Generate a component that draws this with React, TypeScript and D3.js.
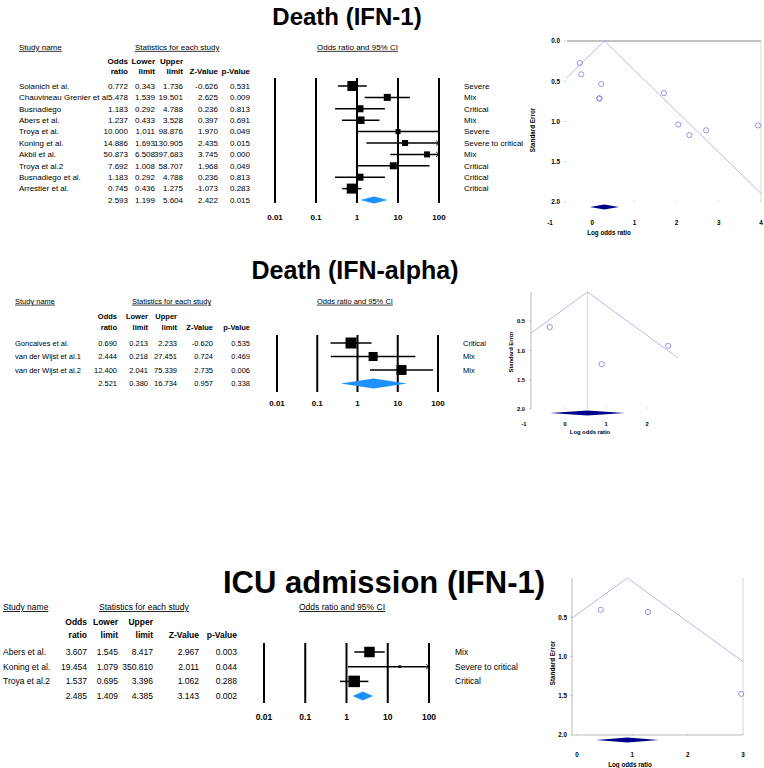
import * as d3 from 'd3';

const FONT = "Arial, 'Liberation Sans', Helvetica, sans-serif";

// ---- Death (IFN-1) ----
const death1Studies = ["Solanich et al.", "Chauvineau Grenier et al.", "Busnadiego", "Abers et al.", "Troya et al.", "Koning et al.", "Akbil et al.", "Troya et al.2", "Busnadiego et al.", "Arrestier et al."];
const death1OddsRatio = [0.772, 5.478, 1.183, 1.237, 10.0, 14.886, 50.873, 7.692, 1.183, 0.745];
const death1Lower = [0.343, 1.539, 0.292, 0.433, 1.011, 1.693, 6.508, 1.008, 0.292, 0.436];
const death1Upper = [1.736, 19.501, 4.788, 3.528, 98.876, 130.905, 397.683, 58.707, 4.788, 1.275];
const death1Z = [-0.626, 2.625, 0.236, 0.397, 1.97, 2.435, 3.745, 1.968, 0.236, -1.073];
const death1P = [0.531, 0.009, 0.813, 0.691, 0.049, 0.015, 0.0, 0.049, 0.813, 0.283];
const death1Severity = ["Severe", "Mix", "Critical", "Mix", "Severe", "Severe to critical", "Mix", "Critical", "Critical", "Critical"];
const death1Weight = [18.2, 8.9, 8.9, 10.2, 4.6, 6.6, 6.6, 8.9, 8.9, 18.2];
const death1Summary = [2.593, 1.199, 5.604, 2.422, 0.015];

// ---- Death (IFN-alpha) ----
const alphaStudies = ["Goncalves et al.", "van der Wijst et al.1", "van der Wijst et al.2"];
const alphaOddsRatio = [0.69, 2.444, 12.4];
const alphaLower = [0.213, 0.218, 2.041];
const alphaUpper = [2.233, 27.451, 75.339];
const alphaZ = [-0.62, 0.724, 2.735];
const alphaP = [0.535, 0.469, 0.006];
const alphaSeverity = ["Critical", "Mix", "Mix"];
const alphaWeight = [40, 27, 33];
const alphaSummary = [2.521, 0.38, 16.734, 0.957, 0.338];

// ---- ICU admission (IFN-1) ----
const icuStudies = ["Abers et al.", "Koning et al.", "Troya et al.2"];
const icuOddsRatio = [3.607, 19.454, 1.537];
const icuLower = [1.545, 1.079, 0.695];
const icuUpper = [8.417, 350.81, 3.396];
const icuZ = [2.967, 2.011, 1.062];
const icuP = [0.003, 0.044, 0.288];
const icuSeverity = ["Mix", "Severe to critical", "Critical"];
const icuWeight = [44, 3, 53];
const icuSummary = [2.485, 1.409, 4.385, 3.143, 0.002];

// axis / header labels
const forestTicks = [0.01, 0.1, 1, 10, 100];
const forestTickLabels = ["0.01", "0.1", "1", "10", "100"];
const headerTop = ["Odds", "Lower", "Upper", "", ""];
const headerBottom = ["ratio", "limit", "limit", "Z-Value", "p-Value"];
const funnel1XTicks = [-1, 0, 1, 2, 3, 4];
const funnel2XTicks = [-1, 0, 1, 2];
const funnel3XTicks = [0, 1, 2, 3];
const funnel1SeTicks = [0, 0.5, 1, 1.5, 2];
const funnel23SeTicks = [0.5, 1, 1.5, 2];

interface ForestLayout {
  title: string; titleX: number; titleY: number; titleSize: number;
  fs: number; nameX: number; headY: number; statsX: number; orHeadX: number;
  colY1: number; colY2: number; cols: number[];
  rowY0: number; rowStep: number;
  plotX0: number; plotX1: number; lineTop: number; lineBottom: number;
  tickY: number; tickFs: number; sevX: number; maxSide: number; diamondH: number;
}

function Forest({ L, studies, or, lo, hi, z, p, severity, weight, summary }: any) {
  const x = d3.scaleLog().domain([0.01, 100]).range([L.plotX0, L.plotX1]).clamp(true);
  const rowY = (i: number) => L.rowY0 + i * L.rowStep;
  const side = d3.scaleSqrt().domain([0, d3.max(weight as number[])!]).range([0, L.maxSide]);
  const bl = L.fs * 0.36;
  const n = studies.length;
  const sy = rowY(n);
  return (
    <g fontFamily={FONT}>
      <text x={L.titleX} y={L.titleY} textAnchor="middle" fontWeight="bold" fontSize={L.titleSize}>{L.title}</text>
      <text x={L.nameX} y={L.headY + bl} fontSize={L.fs} style={{ textDecoration: 'underline' }}>Study name</text>
      <text x={L.statsX} y={L.headY + bl} fontSize={L.fs} style={{ textDecoration: 'underline' }}>Statistics for each study</text>
      <text x={L.orHeadX} y={L.headY + bl} fontSize={L.fs} style={{ textDecoration: 'underline' }}>Odds ratio and 95% CI</text>
      {L.cols.map((cx: number, j: number) => (
        <g key={j} fontWeight="bold" fontSize={L.fs} textAnchor="end">
          <text x={cx} y={L.colY1 + bl}>{headerTop[j]}</text>
          <text x={cx} y={L.colY2 + bl}>{headerBottom[j]}</text>
        </g>
      ))}
      {studies.map((s: string, i: number) => {
        const vals = [or[i], lo[i], hi[i], z[i], p[i]];
        return (
          <g key={s + i} fontSize={L.fs}>
            <text x={L.nameX} y={rowY(i) + bl}>{s}</text>
            {vals.map((v: number, j: number) => (
              <text key={j} x={L.cols[j]} y={rowY(i) + bl} textAnchor="end">{v.toFixed(3)}</text>
            ))}
            <text x={L.sevX} y={rowY(i) + bl}>{severity[i]}</text>
          </g>
        );
      })}
      <g fontSize={L.fs}>
        {summary.map((v: number, j: number) => (
          <text key={j} x={L.cols[j]} y={sy + bl} textAnchor="end">{v.toFixed(3)}</text>
        ))}
      </g>
      {forestTicks.map((t, k) => (
        <g key={t}>
          <line x1={x(t)} x2={x(t)} y1={L.lineTop} y2={L.lineBottom} stroke="#000" strokeWidth={2} />
          <text x={x(t)} y={L.tickY + L.tickFs * 0.36} textAnchor="middle" fontWeight="bold" fontSize={L.tickFs}>{forestTickLabels[k]}</text>
        </g>
      ))}
      {studies.map((s: string, i: number) => {
        const y = rowY(i);
        const a = side(weight[i]);
        const xr = x(hi[i]);
        return (
          <g key={'m' + i}>
            <line x1={x(lo[i])} x2={xr} y1={y} y2={y} stroke="#000" strokeWidth={1.5} />
            {hi[i] > 100 && (
              <path d={`M${xr - 3},${y - 2.5}L${xr},${y}L${xr - 3},${y + 2.5}`} fill="none" stroke="#000" strokeWidth={0.8} />
            )}
            <rect x={x(or[i]) - a / 2} y={y - a / 2} width={a} height={a} fill="#000" />
          </g>
        );
      })}
      <path
        d={`M${x(summary[1])},${sy}L${x(summary[0])},${sy - L.diamondH / 2}L${x(summary[2])},${sy}L${x(summary[0])},${sy + L.diamondH / 2}Z`}
        fill="#1E90FF"
      />
    </g>
  );
}

interface FunnelLayout {
  xDomain: [number, number]; xRange: [number, number];
  yTop: number; yBottom: number; left: number; right: number;
  xTicks: number[]; seTicks: number[];
  tickLabelX: number; tickX: number; xTickY: number; xLabelX: number; xLabelY: number;
  yLabelX: number; yLabelY: number; diamondY: number; fs: number;
  topLine: boolean; leftAxis: boolean; rightAxis: boolean; bottomAxis: boolean; centerLine: boolean;
}

function Funnel({ L, or, lo, hi }: { L: FunnelLayout; or: number[]; lo: number[]; hi: number[] }) {
  const x = d3.scaleLinear().domain(L.xDomain).range(L.xRange);
  const y = d3.scaleLinear().domain([0, 2]).range([L.yTop, L.yBottom]);
  const logOr = or.map(Math.log);
  const se = lo.map((l, i) => (Math.log(hi[i]) - Math.log(l)) / (2 * 1.96));
  const w = se.map((s) => 1 / (s * s));
  const sw = d3.sum(w);
  const c = d3.sum(logOr.map((v, i) => v * w[i])) / sw;
  const seC = Math.sqrt(1 / sw);
  const seL = Math.min(2, (c - x.invert(L.left)) / 1.96);
  const seR = Math.min(2, (x.invert(L.right) - c) / 1.96);
  const line = d3.line<[number, number]>().x((d) => x(d[0])).y((d) => y(d[1]));
  const funnelPts: [number, number][] = [[c - 1.96 * seL, seL], [c, 0], [c + 1.96 * seR, seR]];
  const dy = L.diamondY;
  return (
    <g fontFamily={FONT}>
      {L.topLine && <line x1={L.left} x2={L.right} y1={y(0)} y2={y(0)} stroke="#666" strokeWidth={0.8} />}
      {L.leftAxis && <line x1={L.left} x2={L.left} y1={y(0)} y2={y(2)} stroke="#aaa" strokeWidth={0.8} />}
      {L.rightAxis && <line x1={L.right} x2={L.right} y1={y(0)} y2={y(2)} stroke="#ccc" strokeWidth={0.8} />}
      {L.bottomAxis && <line x1={L.left} x2={L.right} y1={y(2)} y2={y(2)} stroke="#aaa" strokeWidth={0.8} />}
      {L.centerLine && <line x1={x(c)} x2={x(c)} y1={y(0)} y2={y(2)} stroke="#c8c8ee" strokeWidth={0.8} />}
      <path d={line(funnelPts)!} fill="none" stroke="#9a9ae4" strokeWidth={0.7} />
      {L.seTicks.map((t) => (
        <g key={t}>
          <line x1={L.tickX - 2} x2={L.tickX} y1={y(t)} y2={y(t)} stroke="#aaa" strokeWidth={0.6} />
          <text x={L.tickLabelX} y={y(t) + L.fs * 0.36} textAnchor="end" fontWeight="bold" fontSize={L.fs}>{t.toFixed(1)}</text>
        </g>
      ))}
      {L.xTicks.map((t) => (
        <g key={t}>
          <line x1={x(t)} x2={x(t)} y1={y(2) - 2} y2={y(2)} stroke="#ccc" strokeWidth={0.6} />
          <text x={x(t)} y={L.xTickY + L.fs * 0.36} textAnchor="middle" fontWeight="bold" fontSize={L.fs}>{t}</text>
        </g>
      ))}
      <text x={L.xLabelX} y={L.xLabelY + L.fs * 0.36} textAnchor="middle" fontWeight="bold" fontSize={L.fs}>Log odds ratio</text>
      <text transform={`translate(${L.yLabelX},${L.yLabelY}) rotate(-90)`} textAnchor="middle" dy={L.fs * 0.36} fontWeight="bold" fontSize={L.fs}>Standard Error</text>
      {logOr.map((v, i) => (
        <circle key={i} cx={x(v)} cy={y(se[i])} r={2.6} fill="none" stroke="#6a6ad8" strokeWidth={0.7} />
      ))}
      <path
        d={`M${x(c - 1.96 * seC)},${dy}L${x(c)},${dy - 2.6}L${x(c + 1.96 * seC)},${dy}L${x(c)},${dy + 2.6}Z`}
        fill="#00008b"
      />
    </g>
  );
}

const layout1: ForestLayout = {
  title: "Death (IFN-1)", titleX: 347, titleY: 25, titleSize: 24,
  fs: 8, nameX: 19, headY: 47, statsX: 135, orHeadX: 317,
  colY1: 61, colY2: 71, cols: [128, 155, 183, 218, 250],
  rowY0: 86, rowStep: 11.4,
  plotX0: 275, plotX1: 439, lineTop: 78, lineBottom: 203,
  tickY: 217, tickFs: 8, sevX: 464, maxSide: 10, diamondH: 7,
};
const layout2: ForestLayout = {
  title: "Death (IFN-alpha)", titleX: 355, titleY: 279, titleSize: 25,
  fs: 7.5, nameX: 15, headY: 301, statsX: 132, orHeadX: 317,
  colY1: 316, colY2: 327, cols: [117, 148, 177, 213, 250],
  rowY0: 343, rowStep: 13.5,
  plotX0: 277, plotX1: 438, lineTop: 335, lineBottom: 392,
  tickY: 403, tickFs: 8, sevX: 463, maxSide: 11, diamondH: 10,
};
const layout3: ForestLayout = {
  title: "ICU admission (IFN-1)", titleX: 384, titleY: 593, titleSize: 31,
  fs: 8.5, nameX: 3, headY: 607, statsX: 99, orHeadX: 299,
  colY1: 622, colY2: 635, cols: [87, 118, 153, 199, 237],
  rowY0: 652, rowStep: 14.7,
  plotX0: 264, plotX1: 429, lineTop: 643, lineBottom: 703,
  tickY: 717, tickFs: 8.5, sevX: 455, maxSide: 11.5, diamondH: 9,
};

const funnel1: FunnelLayout = {
  xDomain: [-1, 4], xRange: [550, 761], yTop: 41, yBottom: 202, left: 567, right: 761,
  xTicks: funnel1XTicks, seTicks: funnel1SeTicks, tickLabelX: 560, tickX: 566, xTickY: 223,
  xLabelX: 609, xLabelY: 233, yLabelX: 533, yLabelY: 130, diamondY: 207, fs: 6.3,
  topLine: true, leftAxis: false, rightAxis: true, bottomAxis: false, centerLine: false,
};
const funnel2: FunnelLayout = {
  xDomain: [-1, 2], xRange: [524, 647], yTop: 292, yBottom: 409, left: 531, right: 678,
  xTicks: funnel2XTicks, seTicks: funnel23SeTicks, tickLabelX: 525, tickX: 531, xTickY: 424,
  xLabelX: 590, xLabelY: 432, yLabelX: 511, yLabelY: 352, diamondY: 413, fs: 5.8,
  topLine: false, leftAxis: true, rightAxis: false, bottomAxis: false, centerLine: true,
};
const funnel3: FunnelLayout = {
  xDomain: [0, 3], xRange: [577, 743], yTop: 578, yBottom: 735, left: 572, right: 743,
  xTicks: funnel3XTicks, seTicks: funnel23SeTicks, tickLabelX: 567, tickX: 572, xTickY: 755,
  xLabelX: 630, xLabelY: 765, yLabelX: 553, yLabelY: 663, diamondY: 740, fs: 6.3,
  topLine: false, leftAxis: true, rightAxis: true, bottomAxis: true, centerLine: false,
};

export default function App() {
  return (
    <div style={{ position: 'absolute', left: 0, top: 0, background: '#fff' }}>
      <svg width={764} height={768} style={{ display: 'block' }}>
        <rect width={764} height={768} fill="#fff" />
        <Forest L={layout1} studies={death1Studies} or={death1OddsRatio} lo={death1Lower} hi={death1Upper}
          z={death1Z} p={death1P} severity={death1Severity} weight={death1Weight} summary={death1Summary} />
        <Funnel L={funnel1} or={death1OddsRatio} lo={death1Lower} hi={death1Upper} />
        <Forest L={layout2} studies={alphaStudies} or={alphaOddsRatio} lo={alphaLower} hi={alphaUpper}
          z={alphaZ} p={alphaP} severity={alphaSeverity} weight={alphaWeight} summary={alphaSummary} />
        <Funnel L={funnel2} or={alphaOddsRatio} lo={alphaLower} hi={alphaUpper} />
        <Forest L={layout3} studies={icuStudies} or={icuOddsRatio} lo={icuLower} hi={icuUpper}
          z={icuZ} p={icuP} severity={icuSeverity} weight={icuWeight} summary={icuSummary} />
        <Funnel L={funnel3} or={icuOddsRatio} lo={icuLower} hi={icuUpper} />
      </svg>
    </div>
  );
}
